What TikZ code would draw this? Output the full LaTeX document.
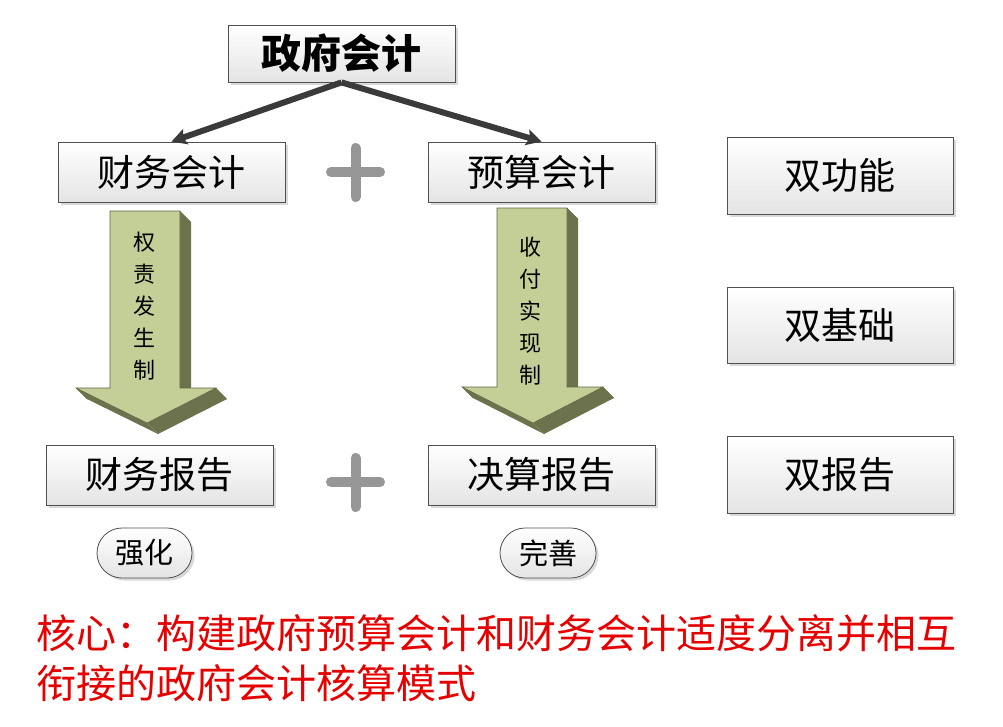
\documentclass[tikz,border=0pt]{standalone}
\usepackage{fontspec}
\setmainfont{Noto Sans CJK SC}
\usetikzlibrary{shadows,arrows.meta,calc}
\definecolor{boxline}{RGB}{80,80,80}
\definecolor{boxbot}{RGB}{228,228,228}
\definecolor{plusgray}{RGB}{150,150,150}
\definecolor{arrfront}{RGB}{196,207,152}
\definecolor{arrside}{RGB}{108,114,76}
\definecolor{arrline}{RGB}{95,100,65}
\definecolor{conn}{RGB}{58,58,58}
\definecolor{redtext}{RGB}{230,0,0}
\tikzset{
  box/.style={draw=boxline, line width=0.8pt, shading=axis, top color=white, bottom color=boxbot,
    drop shadow={shadow xshift=2.5pt, shadow yshift=-2.5pt, opacity=0.3, fill=gray},
    inner sep=0pt, font=\fontsize{37}{40}\selectfont},
  pill/.style={box, rounded corners=25pt, font=\fontsize{29}{32}\selectfont},
  conn/.style={line width=6pt, draw=conn, -{Stealth[length=15pt,width=16pt,inset=3pt]}},
  plus/.style={line width=10pt, draw=plusgray, line cap=round},
  vtext/.style={align=center, inner sep=0pt, font=\fontsize{22}{32}\selectfont},
  red/.style={anchor=west, inner sep=0pt, text=redtext, font=\fontsize{40}{44}\selectfont},
}
\begin{document}
\begin{tikzpicture}[x=1pt,y=-1pt]
\useasboundingbox (0,0) rectangle (1003,726);
% boxes
\node[box, minimum width=227, minimum height=57, font=\fontsize{40}{44}\selectfont\bfseries] (top) at (341.5,53.5) {政府会计};
\node[box, minimum width=227, minimum height=60] (cw) at (171.5,172) {财务会计};
\node[box, minimum width=227, minimum height=60] (ys) at (541.5,172) {预算会计};
\node[box, minimum width=226, minimum height=77] (f1) at (840,175.5) {双功能};
\node[box, minimum width=226, minimum height=76] (f2) at (840,325) {双基础};
\node[box, minimum width=226, minimum height=77] (f3) at (840,474.5) {双报告};
\node[box, minimum width=227, minimum height=60] (cb) at (159.5,475) {财务报告};
\node[box, minimum width=227, minimum height=60] (jb) at (541.5,475) {决算报告};
\node[pill, minimum width=95, minimum height=50] (qh) at (144.5,553) {强化};
\node[pill, minimum width=96, minimum height=50] (ws) at (548,553) {完善};
% connectors
\draw[conn] (top.south) -- (cw.north);
\draw[conn] (top.south) -- (ys.north);
% plus signs
\draw[plus] (331,172) -- (380,172) (355.5,148) -- (355.5,197);
\draw[plus] (331,482) -- (380,482) (355.5,458) -- (355.5,507);
% block arrow 1
\coordinate (a1) at (110,211); \coordinate (a2) at (180,211); \coordinate (a3) at (180,388);
\coordinate (a4) at (216,388); \coordinate (a5) at (147,423); \coordinate (a6) at (76,388);
\coordinate (a7) at (110,388);
\fill[arrside, shift={(11,11)}] (a1)--(a2)--(a3)--(a4)--(a5)--(a6)--(a7)--cycle;
\foreach \p/\q in {a1/a2,a2/a3,a3/a4,a4/a5,a5/a6,a6/a7,a7/a1}
  \fill[arrside] (\p) -- (\q) -- ($(\q)+(11,11)$) -- ($(\p)+(11,11)$) -- cycle;
\filldraw[fill=arrfront, draw=arrline, line width=0.6pt] (a1)--(a2)--(a3)--(a4)--(a5)--(a6)--(a7)--cycle;
% block arrow 2
\coordinate (b1) at (497,208); \coordinate (b2) at (567,208); \coordinate (b3) at (567,387);
\coordinate (b4) at (603,387); \coordinate (b5) at (533,423); \coordinate (b6) at (462,387);
\coordinate (b7) at (497,387);
\fill[arrside, shift={(11,11)}] (b1)--(b2)--(b3)--(b4)--(b5)--(b6)--(b7)--cycle;
\foreach \p/\q in {b1/b2,b2/b3,b3/b4,b4/b5,b5/b6,b6/b7,b7/b1}
  \fill[arrside] (\p) -- (\q) -- ($(\q)+(11,11)$) -- ($(\p)+(11,11)$) -- cycle;
\filldraw[fill=arrfront, draw=arrline, line width=0.6pt] (b1)--(b2)--(b3)--(b4)--(b5)--(b6)--(b7)--cycle;
% arrow texts
\node[vtext] (t1) at (144,306) {权\\责\\发\\生\\制};
\node[vtext] (t2) at (530,311) {收\\付\\实\\现\\制};
% red text
\node[red] (r1) at (36,633) {核心：构建政府预算会计和财务会计适度分离并相互};
\node[red] (r2) at (36,683) {衔接的政府会计核算模式};
\end{tikzpicture}
\end{document}
